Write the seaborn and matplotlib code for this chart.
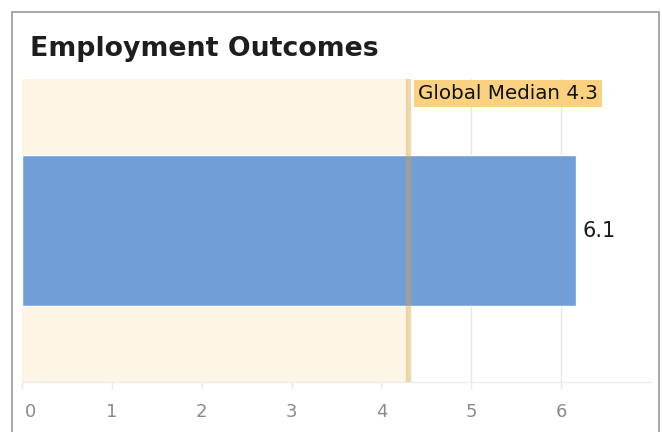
import matplotlib
matplotlib.use("Agg")
import matplotlib.pyplot as plt
from matplotlib.patches import Rectangle
from matplotlib.transforms import ScaledTranslation
import seaborn as sns
import pandas as pd

# ---- data ----
title = "Employment Outcomes"
categories = ["Employment Outcomes"]
values = [6.16]
value_labels = ["6.1"]
median_value = 4.3
median_label = "Global Median"
x_ticks = [0, 1, 2, 3, 4, 5, 6]

sns.set_theme(style="white")
plt.rcParams["font.family"] = ["DejaVu Sans"]

fig = plt.figure(figsize=(6.62, 4.32), dpi=100)
ax = fig.add_axes([22 / 662, 1 - 382 / 432, (651 - 22) / 662, (382 - 79) / 432])

df = pd.DataFrame({"cat": categories, "val": values})

# shaded region below median
ax.axvspan(0, median_value, color="#FDF5E6", zorder=0, lw=0)

sns.barplot(data=df, x="val", y="cat", orient="h", color="#729ED8",
            saturation=1, width=0.5, ax=ax)
for p in ax.patches:
    p.set_zorder(2)

# median line
ax.axvline(median_value, color="#D9A040", alpha=0.42, lw=3.8, zorder=3)

ax.set_xlim(0, 7)
ax.set_ylim(0.5, -0.5)
ax.set_xticks(x_ticks)
ax.set_xticklabels([str(t) for t in x_ticks])
ax.set_axisbelow(True)
ax.xaxis.grid(True, color="#E8E6E2", lw=1)
ax.yaxis.grid(False)
ax.set_yticks([])
ax.set_xlabel("")
ax.set_ylabel("")
for s in ["left", "right", "top"]:
    ax.spines[s].set_visible(False)
ax.spines["bottom"].set_color("#EDEDED")
ax.spines["bottom"].set_linewidth(1)
ax.tick_params(axis="x", colors="#EAEAEA", length=5, width=1, pad=10,
               labelcolor="#8A8A8A", labelsize=13, bottom=True)
t0 = ax.xaxis.get_major_ticks()[0].label1
t0.set_transform(t0.get_transform() + ScaledTranslation(8 / 100, 0, fig.dpi_scale_trans))

# value label
for c, v, lab in zip(categories, values, value_labels):
    ax.text(v + 0.08, 0, lab, va="center", ha="left",
            fontsize=15, color="#1A1A1A", zorder=5)

# median annotation
ax.text(median_value + 0.11, -0.483, f"{median_label} {median_value}",
        va="top", ha="left", fontsize=14.3, color="#111111", zorder=6,
        bbox=dict(boxstyle="square,pad=0.2", fc="#F9D17F", ec="none"))

# title
fig.text(30 / 662, 1 - 56 / 432, title, fontsize=19.3, fontweight="bold",
         color="#1E1E1E", va="baseline", ha="left")

# figure border
fig.patches.append(Rectangle((12 / 662, -0.2), (659 - 12) / 662, 1.2 - 12 / 432,
                             transform=fig.transFigure, fill=False,
                             ec="#9A9A9A", lw=1.2, zorder=10))

fig.savefig("out.png", dpi=100)
